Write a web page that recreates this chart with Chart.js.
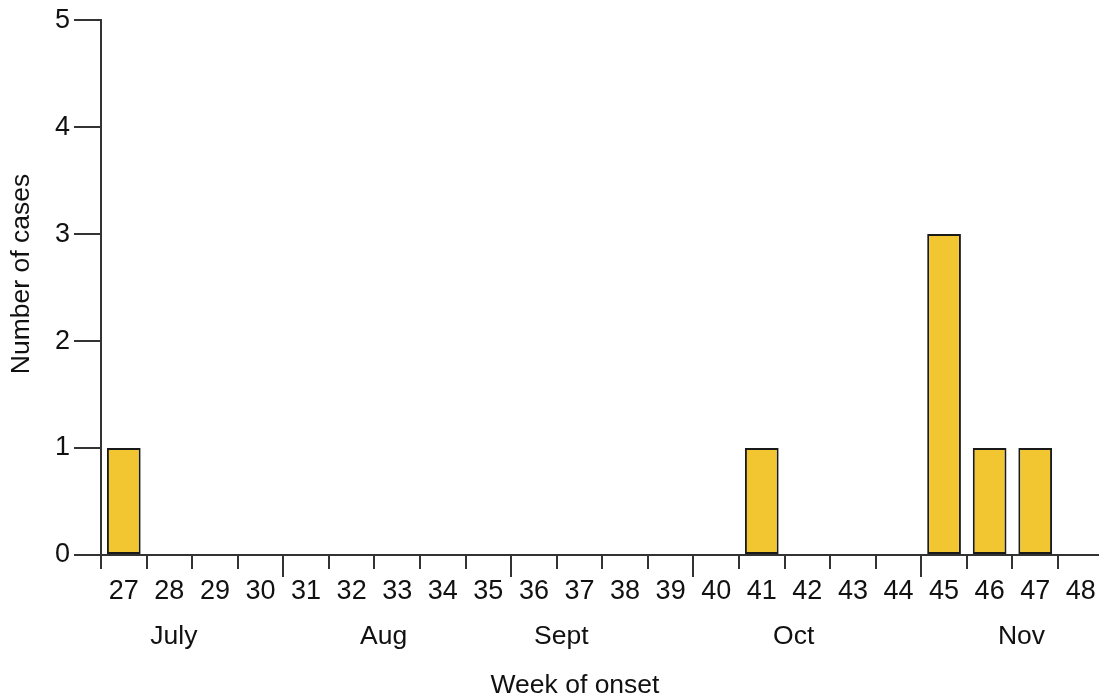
<!DOCTYPE html>
<html><head><meta charset="utf-8">
<script src="https://cdn.jsdelivr.net/npm/chart.js@4.4.1/dist/chart.umd.min.js"></script>
<style>html,body{margin:0;padding:0;background:#fff}#wrap{width:1099px;height:700px;position:relative}</style>
</head><body><div id="wrap"><canvas id="c"></canvas></div>
<script>
const weeks = [27,28,29,30,31,32,33,34,35,36,37,38,39,40,41,42,43,44,45,46,47,48];
const tickLabels = ["27","28","29","30","31","32","33","34","35","36","37","38","39","40","41","42","43","44","45","46","47","48"];
const cases = [1,0,0,0,0,0,0,0,0,0,0,0,0,0,1,0,0,0,3,1,1,0];
const monthLabels = ["July","Aug","Sept","Oct","Nov"];
const monthLabelWeeks = [28.1,32.7,36.6,41.7,46.7];
const monthStartWeeks = [31,36,40,45];
const yTicks = [0,1,2,3,4,5];
const xTitle = "Week of onset";
const yTitle = "Number of cases";

const FONT = "'Liberation Sans', Arial, Helvetica, sans-serif";
const AXIS = '#333333';
const TXT = '#111111';

const extras = {
  id: 'extras',
  afterDraw(chart) {
    const ctx = chart.ctx, xs = chart.scales.x;
    ctx.save();
    ctx.strokeStyle = AXIS; ctx.lineWidth = 2;
    const bounds = weeks.map(w => w - 0.5).concat([weeks[weeks.length-1] + 0.5]);
    bounds.forEach(b => {
      const px = Math.round(xs.getPixelForValue(b));
      if (px > chart.width) return;
      const len = monthStartWeeks.includes(b + 0.5) ? 22 : 14;
      ctx.beginPath(); ctx.moveTo(px, xs.top); ctx.lineTo(px, xs.top + len); ctx.stroke();
    });
    ctx.fillStyle = TXT;
    ctx.font = "26.5px " + FONT;
    ctx.textAlign = 'center'; ctx.textBaseline = 'middle';
    ctx.fillText(xTitle, 575, 686);
    ctx.translate(22, 274); ctx.rotate(-Math.PI/2);
    ctx.fillText(yTitle, 0, 0);
    ctx.restore();
  }
};

function fixX(h) {
  return s => { s.height = h; s.paddingLeft = 0; s.paddingRight = 0; };
}

new Chart(document.getElementById('c'), {
  type: 'bar',
  data: {
    datasets: [{
      data: weeks.map((w, i) => ({x: w, y: cases[i]})),
      xAxisID: 'x', yAxisID: 'y',
      backgroundColor: '#F2C631',
      borderColor: '#1A1A1A',
      borderWidth: c => (c.raw && c.raw.y) ? 2 : 0,
      borderSkipped: false,
      barPercentage: 0.74,
      categoryPercentage: 1
    }]
  },
  options: {
    responsive: true, maintainAspectRatio: false, animation: false,
    layout: {padding: {top: 19, right: 0, bottom: 0, left: 0}},
    plugins: {legend: {display: false}, tooltip: {enabled: false}},
    scales: {
      x: {
        type: 'linear', position: 'bottom', weight: 1, min: 26.5, max: 48.4, offset: false,
        afterBuildTicks: s => { s.ticks = weeks.map(v => ({value: v})); },
        ticks: {autoSkip: false, maxRotation: 0, padding: 12, color: TXT, font: {family: FONT, size: 27},
          callback: (v, i) => tickLabels[i]},
        grid: {display: false, offset: false},
        border: {display: true, color: AXIS, width: 2},
        afterFit: fixX(58)
      },
      x2: {
        type: 'linear', position: 'bottom', weight: 2, min: 26.5, max: 48.4, offset: false,
        afterBuildTicks: s => { s.ticks = monthLabelWeeks.map(v => ({value: v})); },
        ticks: {autoSkip: false, maxRotation: 0, padding: 0, color: TXT, font: {family: FONT, size: 26.5},
          callback: (v, i) => monthLabels[i]},
        grid: {display: false, offset: false},
        border: {display: false},
        afterFit: fixX(87)
      },
      y: {
        type: 'linear', min: 0, max: 5,
        afterBuildTicks: s => { s.ticks = yTicks.map(v => ({value: v})); },
        ticks: {padding: 4, color: TXT, font: {family: FONT, size: 27}},
        grid: {drawOnChartArea: false, drawTicks: true, tickLength: 27, color: AXIS, lineWidth: 2},
        border: {display: true, color: AXIS, width: 2},
        afterFit: s => { s.width = 101; }
      }
    }
  },
  plugins: [extras]
});
</script>
</body></html>
